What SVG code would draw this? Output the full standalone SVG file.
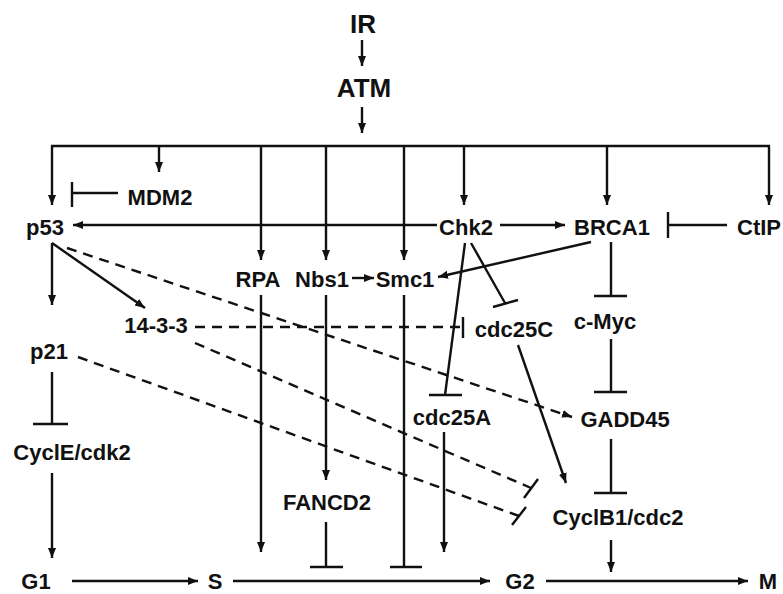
<svg xmlns="http://www.w3.org/2000/svg" width="783" height="594" viewBox="0 0 783 594">
<defs>
<marker id="arr" markerUnits="userSpaceOnUse" markerWidth="12" markerHeight="10" refX="10" refY="4" orient="auto">
<path d="M0,0 L10,4 L0,8 z" fill="#111"/>
</marker>
<style>
.t{font-family:"Liberation Sans",Arial,sans-serif;font-weight:bold;font-size:22px;fill:#111;text-anchor:middle}
.big{font-size:26px}
.l{stroke:#111;stroke-width:2.4;fill:none}
.a{marker-end:url(#arr)}
.d{stroke-dasharray:10 7}
</style>
</defs>
<rect width="783" height="594" fill="#fff"/>
<g id="connectors">
<line class="l a" x1="362" y1="40" x2="362" y2="66"/>
<line class="l a" x1="362" y1="107" x2="362" y2="133"/>
<line class="l" x1="51" y1="146" x2="770" y2="146"/>
<line class="l a" x1="52" y1="146" x2="52" y2="205"/>
<line class="l a" x1="159" y1="146" x2="159" y2="172"/>
<line class="l a" x1="261" y1="146" x2="261" y2="260"/>
<line class="l a" x1="326" y1="146" x2="326" y2="260"/>
<line class="l a" x1="404" y1="146" x2="404" y2="260"/>
<line class="l a" x1="464" y1="146" x2="464" y2="205"/>
<line class="l a" x1="607" y1="146" x2="607" y2="205"/>
<line class="l a" x1="769" y1="146" x2="769" y2="205"/>
<path class="l" d="M118,193 H72 M72,182 V207"/>
<line class="l a" x1="437" y1="225" x2="73" y2="225"/>
<line class="l a" x1="500" y1="225" x2="565" y2="225"/>
<path class="l" d="M727,225 H668 M668,212 V238"/>
<line class="l a" x1="352" y1="278" x2="374" y2="278"/>
<line class="l a" x1="591" y1="242" x2="438" y2="277"/>
<path class="l" d="M471,243 L505,303 M493,307 L518,300"/>
<path class="l" d="M465,243 L445,395 M429,395 H462"/>
<path class="l" d="M611,242 V296 M594,296 H627"/>
<path class="l" d="M611,339 V392 M594,392 H627"/>
<path class="l" d="M611,439 V493 M594,493 H627"/>
<line class="l a" x1="611" y1="540" x2="611" y2="572"/>
<line class="l a" x1="52" y1="243" x2="52" y2="305"/>
<line class="l a" x1="52" y1="243" x2="145" y2="308"/>
<line class="l a d" x1="67" y1="248" x2="572" y2="417"/>
<line class="l d" x1="195" y1="327" x2="463" y2="327"/>
<line class="l" x1="463" y1="317" x2="463" y2="338"/>
<line class="l d" x1="195" y1="343" x2="531" y2="488"/>
<line class="l" x1="538" y1="479" x2="524" y2="498"/>
<line class="l d" x1="78" y1="357" x2="519" y2="516"/>
<line class="l" x1="526" y1="507" x2="512" y2="525"/>
<path class="l" d="M52,372 V424 M33,424 H68"/>
<line class="l a" x1="52" y1="473" x2="52" y2="558"/>
<line class="l a" x1="261" y1="295" x2="261" y2="552"/>
<line class="l a" x1="326" y1="295" x2="326" y2="480"/>
<path class="l" d="M326,522 V567 M310,567 H343"/>
<path class="l" d="M404,295 V567 M390,567 H422"/>
<line class="l a" x1="444" y1="432" x2="444" y2="552"/>
<line class="l a" x1="518" y1="345" x2="566" y2="483"/>
<line class="l a" x1="72" y1="581" x2="198" y2="581"/>
<line class="l a" x1="233" y1="581" x2="490" y2="581"/>
<line class="l a" x1="546" y1="581" x2="748" y2="581"/>
</g>
<g id="IR"><text class="t big" x="363" y="33">IR</text></g>
<g id="ATM"><text class="t big" x="364" y="97">ATM</text></g>
<g id="MDM2"><text class="t" x="160" y="205">MDM2</text></g>
<g id="p53"><text class="t" x="45" y="235">p53</text></g>
<g id="Chk2"><text class="t" x="466" y="235">Chk2</text></g>
<g id="BRCA1"><text class="t" x="612" y="235">BRCA1</text></g>
<g id="CtIP"><text class="t" x="737" y="235" style="text-anchor:start">CtIP</text></g>
<g id="RPA"><text class="t" x="258" y="287">RPA</text></g>
<g id="Nbs1"><text class="t" x="322" y="287">Nbs1</text></g>
<g id="Smc1"><text class="t" x="405" y="287">Smc1</text></g>
<g id="n14-3-3"><text class="t" x="156" y="333">14-3-3</text></g>
<g id="cdc25C"><text class="t" x="514" y="337">cdc25C</text></g>
<g id="c-Myc"><text class="t" x="605" y="329">c-Myc</text></g>
<g id="p21"><text class="t" x="49" y="359">p21</text></g>
<g id="cdc25A"><text class="t" x="452" y="425">cdc25A</text></g>
<g id="GADD45"><text class="t" x="625" y="427">GADD45</text></g>
<g id="CyclE-cdk2"><text class="t" x="72" y="460">CyclE/cdk2</text></g>
<g id="FANCD2"><text class="t" x="327" y="510">FANCD2</text></g>
<g id="CyclB1-cdc2"><text class="t" x="618" y="525">CyclB1/cdc2</text></g>
<g id="G1"><text class="t" x="36" y="589">G1</text></g>
<g id="S"><text class="t" x="215" y="589">S</text></g>
<g id="G2"><text class="t" x="520" y="589">G2</text></g>
<g id="M"><text class="t" x="768" y="589">M</text></g>
</svg>
